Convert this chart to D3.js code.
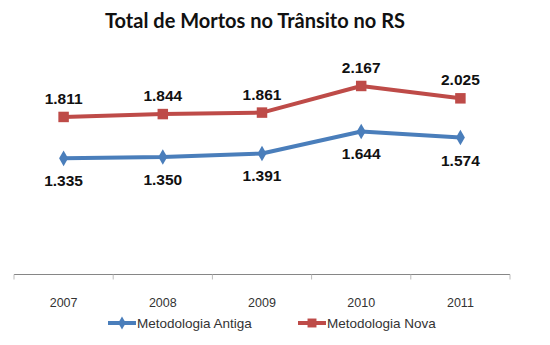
<!DOCTYPE html>
<html><head><meta charset="utf-8">
<script src="https://cdn.jsdelivr.net/npm/d3@7"></script>
<style>body{margin:0;background:#fff}</style>
</head><body>
<svg id="chart" width="550" height="345"></svg>
<script>
// Data
const years = ["2007", "2008", "2009", "2010", "2011"];
const antiga = [1335, 1350, 1391, 1644, 1574];
const nova = [1811, 1844, 1861, 2167, 2025];
const seriesNames = ["Metodologia Antiga", "Metodologia Nova"];
const titleText = "Total de Mortos no Trânsito no RS";

const svg = d3.select("#chart");
const blue = "#4a7ebb", red = "#be4b48";
const fmt = v => d3.format(",")(v).replace(/,/g, ".");

const x = d3.scaleBand().domain(years).range([14, 510]);
const y = d3.scaleLinear().domain([0, 2500]).range([274.5, 57]);
const cx = d => x(d) + x.bandwidth() / 2;

svg.append("text").attr("x", 255).attr("y", 28).attr("text-anchor", "middle")
  .attr("font-family", "Lato, 'Open Sans', sans-serif").attr("font-weight", "bold")
  .attr("font-size", 20).attr("fill", "#111").text(titleText);

// Category axis
const axis = svg.append("g").attr("transform", "translate(0,274.5)");
axis.append("line").attr("x1", 14).attr("x2", 510).attr("stroke", "#868686").attr("stroke-width", 1);
const bounds = years.map(d => x(d)).concat([x.range()[1]]);
axis.selectAll("line.tick").data(bounds).enter().append("line").attr("class", "tick")
  .attr("x1", d => d).attr("x2", d => d).attr("y1", 0).attr("y2", 5)
  .attr("stroke", "#bbb").attr("stroke-width", 1);
axis.selectAll("text").data(years).enter().append("text")
  .attr("x", d => cx(d)).attr("y", 32.5).attr("text-anchor", "middle")
  .attr("font-family", "'Liberation Sans', Arial, sans-serif").attr("font-size", 12.5)
  .attr("fill", "#333").text(d => d);

const line = d3.line().x((d, i) => cx(years[i])).y(d => y(d));

function drawSeries(vals, color, shape, size, labelDy) {
  svg.append("path").datum(vals).attr("d", line).attr("fill", "none")
    .attr("stroke", color).attr("stroke-width", 4).attr("stroke-linejoin", "round");
  svg.selectAll(null).data(vals).enter().append("path")
    .attr("transform", (d, i) => `translate(${cx(years[i])},${y(d)})`)
    .attr("d", d3.symbol().type(shape).size(size)).attr("fill", color);
  svg.selectAll(null).data(vals).enter().append("text")
    .attr("x", (d, i) => cx(years[i])).attr("y", d => y(d) + labelDy)
    .attr("text-anchor", "middle").attr("font-family", "'Liberation Sans', Arial, sans-serif")
    .attr("font-weight", "bold").attr("font-size", 15.5).attr("fill", "#111").text(fmt);
}
drawSeries(antiga, blue, d3.symbolDiamond, 70, 28);
drawSeries(nova, red, d3.symbolSquare, 110, -13);

// Legend
const legend = [
  {name: seriesNames[0], color: blue, shape: d3.symbolDiamond, size: 50, x: 108},
  {name: seriesNames[1], color: red, shape: d3.symbolSquare, size: 80, x: 298}
];
legend.forEach(l => {
  const g = svg.append("g").attr("transform", `translate(${l.x},323)`);
  g.append("line").attr("x1", 0).attr("x2", 28).attr("stroke", l.color).attr("stroke-width", 4);
  g.append("path").attr("transform", "translate(14,0)").attr("d", d3.symbol().type(l.shape).size(l.size)).attr("fill", l.color);
  g.append("text").attr("x", 29).attr("y", 4.5).attr("font-family", "'Liberation Sans', Arial, sans-serif")
    .attr("font-size", 13.5).attr("fill", "#333").text(l.name);
});
</script>
</body></html>
